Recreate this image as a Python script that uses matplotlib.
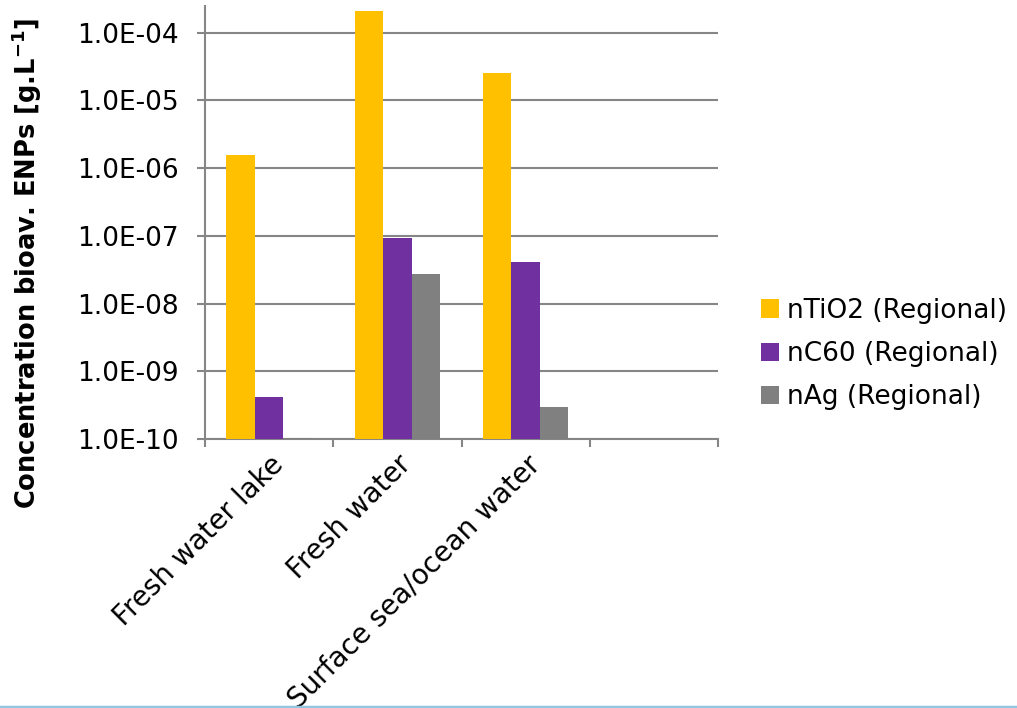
import matplotlib.pyplot as plt
import numpy as np
from matplotlib.lines import Line2D

categories = ["Fresh water lake", "Fresh water", "Surface sea/ocean water", ""]
series_names = ["nTiO2 (Regional)", "nC60 (Regional)", "nAg (Regional)"]
ntio2 = [1.58e-6, 2.09e-4, 2.56e-5, np.nan]
nc60 = [4.2e-10, 9.3e-8, 4.05e-8, np.nan]
nag = [1.03e-10, 2.7e-8, 3.0e-10, np.nan]
colors = ["#FFC000", "#7030A0", "#808080"]
ytick_values = [1e-10, 1e-9, 1e-8, 1e-7, 1e-6, 1e-5, 1e-4]

grid_color = "#868686"

fig = plt.figure(figsize=(10.17, 7.08), dpi=100)
ax = fig.add_axes([205 / 1017, 1 - 439 / 708, 513 / 1017, 433 / 708])

x = np.arange(len(categories))
width = 1 / 4.5
for i, (vals, name, c) in enumerate(zip([ntio2, nc60, nag], series_names, colors)):
    ax.bar(x + (i - 1) * width, vals, width, color=c, label=name, zorder=3)

ax.set_yscale("log")
ax.set_ylim(1e-10, 2.48e-4)
ax.set_xlim(-0.5, len(categories) - 0.5)

ax.set_yticks(ytick_values)
ax.set_yticklabels([f"{v:.1E}" for v in ytick_values])
ax.yaxis.set_minor_locator(plt.NullLocator())
ax.grid(axis="y", color=grid_color, linewidth=1.5, zorder=0)

# category boundaries carry the ticks, centres carry the labels
ax.set_xticks(np.arange(len(categories) + 1) - 0.5)
ax.set_xticklabels([])
ax.set_xticks(x, minor=True)
ax.set_xticklabels(categories, minor=True, rotation=45, ha="right",
                   va="top", rotation_mode="anchor", fontsize=20)
ax.tick_params(axis="x", which="minor", length=0, pad=8)
ax.tick_params(axis="x", which="major", length=6, width=1.5, color=grid_color)
ax.tick_params(axis="y", length=6, width=1.5, color=grid_color,
               labelsize=19, pad=13)

for side in ["top", "right"]:
    ax.spines[side].set_visible(False)
for side in ["left", "bottom"]:
    ax.spines[side].set_color(grid_color)
    ax.spines[side].set_linewidth(1.5)

ax.set_ylabel("Concentration bioav. ENPs [g.L$^{\\mathbf{-1}}$]",
              fontsize=18.5, fontweight="bold")
ax.yaxis.set_label_coords(44 / 1017, 1 - 263 / 708,
                          transform=fig.transFigure)

ax.legend(loc="center left", bbox_to_anchor=(761 / 1017, 1 - 354 / 708),
          bbox_transform=fig.transFigure, frameon=False, fontsize=19,
          handlelength=0.7, handleheight=0.7, handletextpad=0.3,
          labelspacing=0.65, borderpad=0, borderaxespad=0)

fig.add_artist(Line2D([0, 1], [1.5 / 708, 1.5 / 708], color="#92C6E2",
                      linewidth=2.5, transform=fig.transFigure))

fig.savefig("out.png", dpi=100)
